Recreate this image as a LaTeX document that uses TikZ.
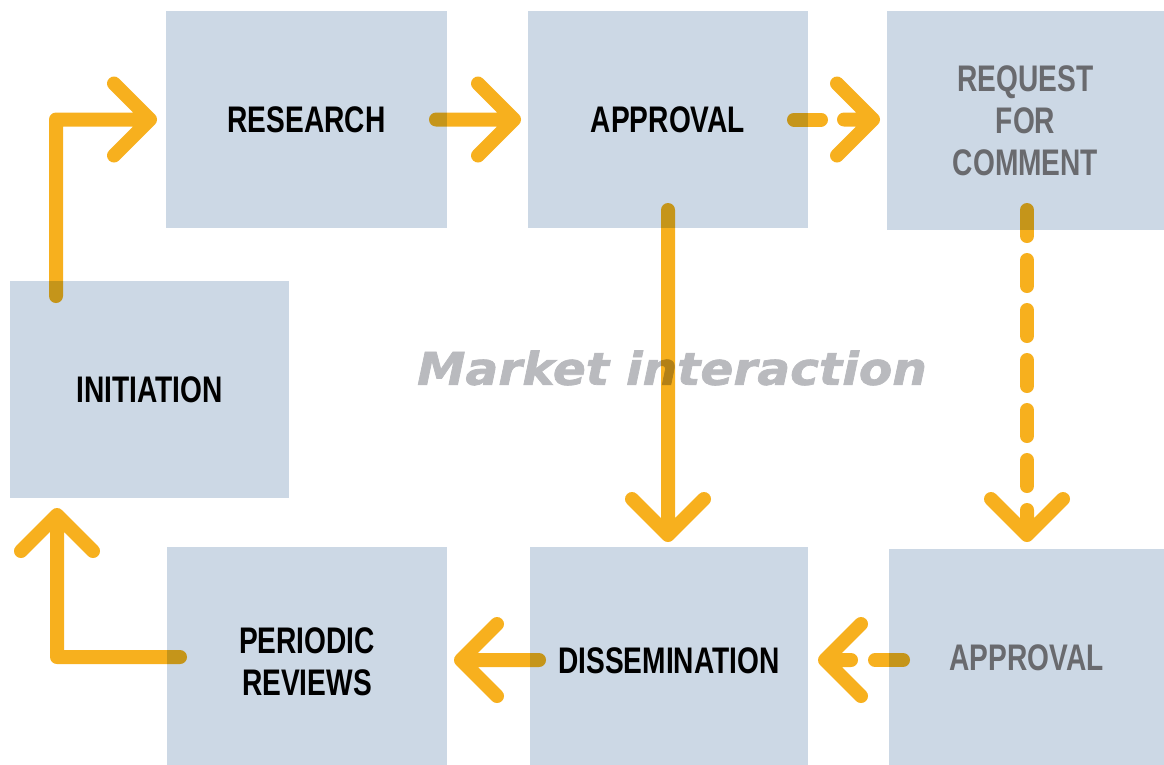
\documentclass[tikz,border=0pt]{standalone}
\usepackage{fontspec}
\usetikzlibrary{calc}
\newfontfamily\boxfont[FakeStretch=0.76]{Liberation Sans}
\newfontfamily\mifont[FakeStretch=1.08,FakeBold=1.6]{DejaVu Sans}
\definecolor{boxfill}{RGB}{204,216,229}
\definecolor{arrowc}{RGB}{247,176,30}
\definecolor{dimtext}{RGB}{105,106,110}
\definecolor{mitext}{RGB}{185,186,190}
\begin{document}
\begin{tikzpicture}[x=1pt,y=-1pt,
  box/.style={fill=boxfill, draw=none, inner sep=0pt, outer sep=0pt, align=center,
    font={\boxfont\bfseries\fontsize{37}{42}\selectfont}},
  dimbox/.style={box, text=dimtext},
  arw/.style={draw=arrowc, line width=14pt, line cap=round, line join=round, blend mode=multiply}]
\useasboundingbox (0,0) rectangle (1164,764);
\clip (0,0) rectangle (1164,764);
% boxes
\node[box, minimum width=281pt, minimum height=217pt] (research) at (306.5,119.5) {RESEARCH};
\node[box, minimum width=280pt, minimum height=217pt] (approval) at (668,119.5) {APPROVAL};
\node[dimbox, minimum width=277pt, minimum height=219pt] (request) at (1025.5,120.5) {REQUEST\\FOR\\COMMENT};
\node[box, minimum width=279pt, minimum height=217pt] (init) at (149.5,389.5) {INITIATION};
\node[box, minimum width=280pt, minimum height=230pt] (periodic) at (307,662) {PERIODIC\\REVIEWS};
\node[box, minimum width=278pt, minimum height=228pt] (dissem) at (669,661) {DISSEMINATION};
\node[dimbox, minimum width=275pt, minimum height=218pt] (approval2) at (1026.5,658) {APPROVAL};
% centre label
\node[font={\mifont\bfseries\itshape\fontsize{45}{50}\selectfont}, text=mitext, inner sep=0pt] (mi) at (672,368) {Market interaction};
% arrows
% initiation -> research
\coordinate (s1) at ([xshift=46pt,yshift=-15pt]init.north west);
\coordinate (t1) at ([xshift=-16pt]research.west);
\draw[arw] (s1) |- (t1) ++(-36,-36) -- (t1) -- ++(-36,36);
% research -> approval
\coordinate (s2) at ([xshift=-11pt]research.east);
\coordinate (t2) at ([xshift=-14pt]approval.west);
\draw[arw] (s2) -- (t2) ++(-36,-36) -- (t2) -- ++(-36,36);
% approval -> request (dashed)
\coordinate (s3) at ([xshift=-14pt]approval.east);
\coordinate (t3a) at (s3 -| request.west);
\coordinate (t3) at ([xshift=-14pt]t3a);
\draw[arw] (s3) -- ++(27,0);
\draw[arw] (t3) ++(-29,0) -- (t3) ++(-36,-36) -- (t3) -- ++(-36,36);
% approval -> dissemination
\coordinate (s4) at ([yshift=18pt]approval.south);
\coordinate (t4a) at (s4 |- dissem.north);
\coordinate (t4) at ([yshift=12pt]t4a);
\draw[arw] (s4) -- (t4) ++(-36,-36) -- (t4) -- ++(36,-36);
% request -> approval2 (dashed)
\coordinate (s5) at ([xshift=1.5pt,yshift=20pt]request.south);
\coordinate (t5a) at (s5 |- approval2.north);
\coordinate (t5) at ([yshift=14pt]t5a);
\draw[arw, dash pattern=on 26pt off 24pt] (s5) -- ++(0,276);
\draw[arw] (t5) ++(0,-25) -- (t5) ++(-36,-36) -- (t5) -- ++(36,-36);
% approval2 -> dissemination (dashed)
\coordinate (s6) at ([xshift=14pt,yshift=-2pt]approval2.west);
\coordinate (t6a) at (s6 -| dissem.east);
\coordinate (t6) at ([xshift=17pt]t6a);
\draw[arw] (s6) -- ++(-28,0);
\draw[arw] (t6) ++(26,0) -- (t6) ++(36,-36) -- (t6) -- ++(36,36);
% dissemination -> periodic
\coordinate (s7) at ([xshift=9pt,yshift=1pt]dissem.west);
\coordinate (t7a) at (s7 -| periodic.east);
\coordinate (t7) at ([xshift=14pt]t7a);
\draw[arw] (s7) -- (t7) ++(36,-36) -- (t7) -- ++(36,36);
% periodic -> initiation
\coordinate (s8) at ([xshift=13pt,yshift=5pt]periodic.west);
\coordinate (t8) at ([xshift=47pt,yshift=-17pt]init.south west);
\draw[arw] (s8) -| (t8) ++(-36,36) -- (t8) -- ++(36,36);
\end{tikzpicture}
\end{document}
